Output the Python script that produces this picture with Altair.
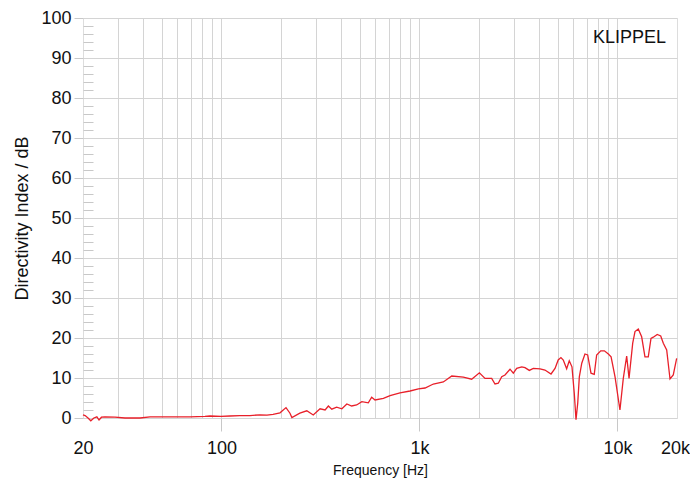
import altair as alt
import pandas as pd

freq = [20, 20.5, 21.2, 21.9, 22.7, 23.5, 24.1, 24.8, 25.8, 29.0, 32.6, 38.8, 43.6, 55.0, 69.4, 82.6, 87.6,
        99.5, 110.5, 124.1, 139.4, 156.6, 169.9, 182.3, 197.7, 212, 222, 227, 249, 270, 291, 315, 334, 347,
        361, 382, 406, 430, 455, 482, 512, 552, 574, 597, 658, 711, 798, 897, 989, 1068, 1176, 1321, 1457,
        1667, 1837, 2009, 2145, 2318, 2409, 2503, 2605, 2706, 2869, 2981, 3100, 3288, 3414, 3591, 3760,
        4065, 4307, 4622, 4842, 5024, 5187, 5330, 5543, 5714, 5896, 6056, 6180, 6304, 6423, 6608, 6857,
        7078, 7356, 7639, 7856, 8238, 8595, 9000, 9292, 9730, 10300, 10710, 11140, 11450, 11950, 12270,
        12750, 13260, 13780, 14320, 14780, 15180, 15890, 16550, 17060, 17740, 18440, 19150, 19920]
di = [0.8, 0.6, 0.0, -0.7, 0.0, 0.3, -0.5, 0.2, 0.3, 0.2, 0.0, 0.0, 0.3, 0.3, 0.3, 0.4, 0.5,
      0.4, 0.5, 0.6, 0.6, 0.8, 0.7, 0.9, 1.3, 2.6, 1.2, 0.1, 1.2, 1.8, 0.75, 2.3, 2.0, 3.0,
      2.2, 2.7, 2.3, 3.5, 3.0, 3.25, 4.1, 3.8, 5.2, 4.5, 4.9, 5.6, 6.3, 6.75, 7.3, 7.5, 8.5, 9.0, 10.5,
      10.2, 9.7, 11.3, 9.9, 9.9, 8.5, 8.7, 10.3, 10.75, 12.2, 11.2, 12.4, 12.8, 12.6, 11.9, 12.4,
      12.3, 12.0, 11.0, 12.4, 14.5, 15.1, 14.5, 12.3, 14.3, 12.8, 6.2, -0.4, 3.7, 10.3, 13.7, 16.0,
      15.75, 11.2, 10.9, 15.75, 16.8, 16.8, 16.0, 15.3, 10.3, 2.0, 9.9, 15.5, 9.9, 18.7, 21.6,
      22.25, 20.3, 15.3, 15.3, 19.9, 20.2, 20.9, 20.5, 18.7, 17.0, 9.75, 10.75, 14.9]

grid_x = [30, 40, 50, 60, 70, 80, 90, 100, 200, 300, 400, 500, 600, 700, 800, 900,
          1000, 2000, 3000, 4000, 5000, 6000, 7000, 8000, 9000, 10000]
label_x = [20, 100, 1000, 10000, 20000]
major_y = list(range(0, 101, 10))
minor_y = [v for v in range(0, 101, 2) if v % 10 != 0]
brand = ["KLIPPEL"]

df = pd.DataFrame({"f": freq, "di": di})

FONT = "Liberation Sans"
GRID = "#d4d4d4"
xscale = alt.Scale(type="log", domain=[20, 20000], nice=False)
yscale = alt.Scale(domain=[0, 100], nice=False)

line = alt.Chart(df).mark_line(color="#e8202a", strokeWidth=1.3, clip=False).encode(
    x=alt.X("f:Q", scale=xscale,
            axis=alt.Axis(orient="bottom", values=grid_x, grid=True, gridColor=GRID, ticks=False,
                          labels=False, domain=False, title=None)),
    y=alt.Y("di:Q", scale=yscale,
            axis=alt.Axis(orient="left", values=major_y, grid=True, gridColor=GRID, tickSize=9,
                          tickColor="#c8c8c8",
                          labelFontSize=18, labelFont=FONT, labelColor="#111", labelPadding=3,
                          domain=False, title="Directivity Index / dB", titleFont=FONT,
                          titleFontSize=18, titleFontWeight="normal", titleColor="#111",
                          titleX=-52, titleY=200)),
)

ghost = alt.Chart(df).mark_line(opacity=0).encode(
    x=alt.X("f:Q", scale=xscale,
            axis=alt.Axis(orient="bottom", values=label_x, grid=False, tickSize=13, tickColor="#c8c8c8",
                          tickOpacity={"condition": {"test": "datum.value == 20 || datum.value == 20000", "value": 0}, "value": 1},
                          labelOffset={"condition": {"test": "datum.value == 20000", "value": -2}, "value": 0},
                          labelExpr="datum.value >= 1000 ? (datum.value/1000) + 'k' : datum.value",
                          labelFontSize=18, labelFont=FONT, labelColor="#111", labelPadding=8,
                          labelFlush=False, labelOverlap=False,
                          domain=False, title="Frequency [Hz]", titleFont=FONT, titleFontSize=14,
                          titleFontWeight="normal", titleColor="#111", titleY=56, titleBaseline="alphabetic")),
    y=alt.Y("di:Q", scale=yscale,
            axis=alt.Axis(orient="left", values=minor_y, grid=False, tickSize=10, tickColor="#c8c8c8",
                          labels=False, domain=False, offset=-10, title=None)),
)

text = alt.Chart(pd.DataFrame({"t": brand})).mark_text(
    align="right", baseline="middle", fontSize=18, font=FONT, color="#111"
).encode(text="t:N", x=alt.value(583), y=alt.value(20))

chart = alt.layer(line, ghost, text).resolve_axis(x="independent", y="independent").properties(
    width=594, height=400, autosize=alt.AutoSizeParams(type="none"),
    padding={"left": 75, "top": 10, "right": 13, "bottom": 60}
).configure_view(stroke="#c8c8c8", strokeWidth=1.5).configure(background="white")

chart.save("out.html", embed_options={"renderer": "svg", "actions": False})
